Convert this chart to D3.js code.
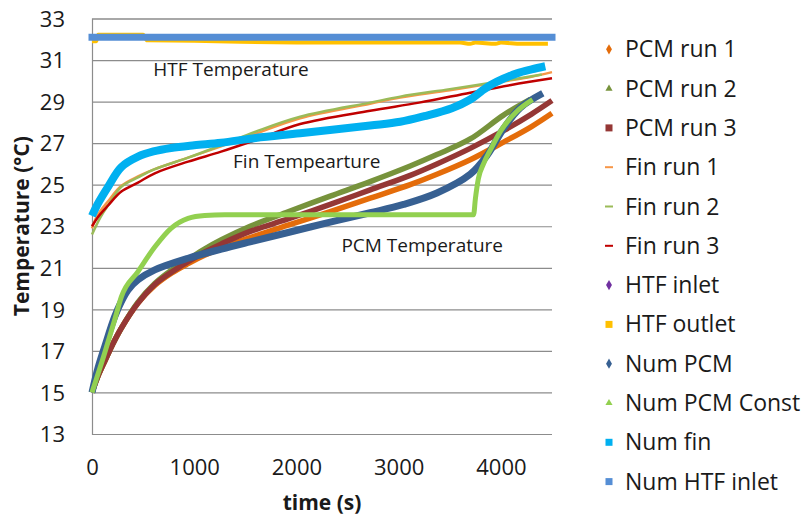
<!DOCTYPE html>
<html>
<head>
<meta charset="utf-8">
<script src="https://cdn.jsdelivr.net/npm/d3@7/dist/d3.min.js"></script>
<style>
  html, body { margin: 0; padding: 0; background: #fff; }
  svg { display: block; font-family: "Open Sans", sans-serif; }
</style>
</head>
<body>
<svg id="chart" width="807" height="519"></svg>
<script>
// Temperature histories: [time (s), temperature (°C)]
const pcmRun1 = [[0,15.0],[60,15.8],[124,16.5],[200,17.3],[287,18.1],[450,19.3],[614,20.15],[780,20.75],[940,21.2],[1100,21.6],[1266,21.95],[1547,22.45],[1918,23.05],[2330,23.7],[2721,24.35],[3113,25.0],[3374,25.5],[3700,26.2],[4026,27.05],[4300,27.8],[4500,28.44]];
const pcmRun2 = [[0,15.0],[60,15.8],[124,16.5],[200,17.3],[287,18.1],[450,19.35],[614,20.25],[780,20.9],[940,21.4],[1100,21.9],[1266,22.35],[1547,23.0],[1918,23.7],[2330,24.45],[2721,25.15],[3113,25.9],[3374,26.45],[3700,27.2],[4026,28.35],[4287,29.1]];
const pcmRun3 = [[0,15.0],[60,15.8],[124,16.5],[200,17.3],[287,18.1],[450,19.3],[614,20.2],[780,20.8],[940,21.3],[1100,21.75],[1266,22.15],[1547,22.75],[1918,23.35],[2330,24.05],[2721,24.75],[3113,25.45],[3374,26.0],[3700,26.75],[4026,27.6],[4300,28.4],[4500,29.05]];
const finRun1 = [[0,22.9],[50,23.5],[157,24.2],[287,24.95],[450,25.4],[614,25.75],[940,26.3],[1263,26.85],[1600,27.45],[2036,28.2],[2721,28.9],[3015,29.2],[3500,29.55],[4000,29.95],[4300,30.2],[4500,30.42]];
const finRun2 = [[0,22.6],[85,23.45],[157,24.0],[287,24.9],[450,25.35],[614,25.75],[940,26.3],[1263,26.9],[1600,27.55],[2036,28.27],[2721,28.95],[3015,29.24],[3500,29.6],[4000,29.98],[4400,30.3]];
const finRun3 = [[0,23.0],[59,23.45],[157,24.0],[287,24.67],[450,25.1],[614,25.55],[940,26.11],[1263,26.59],[1600,27.15],[2036,27.92],[2721,28.56],[3200,28.95],[3700,29.43],[4100,29.8],[4500,30.12]];
const htfInlet = [[0,32.1],[4460,32.1]];
const htfOutlet = [[0,31.9],[40,31.9],[60,32.22],[500,32.22],[540,31.95],[1000,31.93],[1450,31.88],[2000,31.85],[3600,31.84],[3700,31.78],[3750,31.84],[3950,31.78],[4000,31.84],[4200,31.78],[4460,31.78]];
const numPcm = [[0,15.0],[60,16.2],[124,17.2],[222,18.65],[287,19.37],[352,19.93],[450,20.42],[614,20.9],[940,21.46],[1266,21.9],[1547,22.25],[1918,22.7],[2330,23.2],[2721,23.65],[3048,24.05],[3374,24.6],[3700,25.5],[3863,26.4],[4026,27.7],[4189,28.7],[4410,29.4]];
const numPcmConst = [[0,15.0],[124,16.9],[222,18.5],[287,19.6],[450,20.82],[614,22.0],[773,22.9],[940,23.38],[1103,23.52],[1300,23.55],[3733,23.55],[3750,24.3],[3780,25.3],[3830,26.0],[3900,26.7],[4000,27.6],[4160,28.55],[4310,29.1]];
const numFin = [[0,23.5],[59,24.1],[157,24.9],[287,25.85],[450,26.35],[600,26.6],[773,26.77],[1000,26.9],[1263,27.02],[1600,27.25],[2036,27.48],[2721,27.85],[3015,28.03],[3250,28.3],[3520,28.68],[3700,29.1],[3810,29.5],[3900,29.8],[4023,30.1],[4157,30.36],[4300,30.55],[4434,30.7]];
const numHtfInlet = [[0,32.1],[4500,32.1]];

const seriesNames = ["PCM run 1","PCM run 2","PCM run 3","Fin run 1","Fin run 2","Fin run 3","HTF inlet","HTF outlet","Num PCM","Num PCM Const","Num fin","Num HTF inlet"];
const seriesData = [pcmRun1,pcmRun2,pcmRun3,finRun1,finRun2,finRun3,htfInlet,htfOutlet,numPcm,numPcmConst,numFin,numHtfInlet];
const seriesColors = ["#E46C0A","#77933C","#953735","#F79646","#9BBB59","#C00000","#7030A0","#FFC000","#376092","#92D050","#00B0F0","#558ED5"];
const seriesWidths = [5.5,5.5,5.5,2.5,2.5,2.5,3,4,7,5,8,7];
const seriesSymbols = ["diamond","triangle","square","dash","dash","dash","diamond","square","diamond","triangle","square","square"];

const yTicks = [13,15,17,19,21,23,25,27,29,31,33];
const xTicks = [0,1000,2000,3000,4000];
const annotations = [
  {text:"HTF Temperature", t:600, v:30.55},
  {text:"Fin Tempearture", t:1380, v:26.1},
  {text:"PCM Temperature", t:2440, v:22.1}
];

const svg = d3.select("#chart");
const x = d3.scaleLinear().domain([0,4500]).range([92,552]);
const y = d3.scaleLinear().domain([13,33]).range([434,18.5]);

// horizontal gridlines and value axis
const yAxis = d3.axisLeft(y).tickValues(yTicks).tickSize(-(x.range()[1]-x.range()[0])).tickPadding(27).tickFormat(d3.format("d"));
const gy = svg.append("g").attr("transform",`translate(${x(0)},0)`).call(yAxis);
gy.select(".domain").attr("stroke","#8c8c8c").attr("stroke-width",1.2);
gy.selectAll(".tick line").attr("stroke","#8c8c8c").attr("stroke-width",1.2);
gy.selectAll(".tick text").attr("font-size",22).attr("fill","#1a1a1a").attr("font-family","Open Sans").attr("dy","0.35em");

const xAxis = d3.axisBottom(x).tickValues(xTicks).tickSize(0).tickPadding(25).tickFormat(d3.format("d"));
const gx = svg.append("g").attr("transform",`translate(0,${y(13)})`).call(xAxis);
gx.select(".domain").remove();
gx.selectAll(".tick text").attr("font-size",22).attr("fill","#1a1a1a").attr("font-family","Open Sans");

// series lines, first series underneath
const smooth = d3.line().x(d=>x(d[0])).y(d=>y(d[1])).curve(d3.curveCatmullRom.alpha(0.5));
const mono = d3.line().x(d=>x(d[0])).y(d=>y(d[1])).curve(d3.curveMonotoneX);
svg.append("g").selectAll("path").data(seriesData).join("path")
  .attr("d", (d,i) => (i===9 || i===7) ? mono(d) : smooth(d))
  .attr("fill","none")
  .attr("stroke",(d,i)=>seriesColors[i])
  .attr("stroke-width",(d,i)=>seriesWidths[i])
  .attr("stroke-linejoin","round")
  .attr("stroke-linecap",(d,i)=> i===11 ? "square" : "butt");

// in-plot labels
svg.append("g").selectAll("text").data(annotations).join("text")
  .attr("x",d=>x(d.t)).attr("y",d=>y(d.v))
  .attr("font-size",19).attr("fill","#1a1a1a").attr("dy","0.35em")
  .text(d=>d.text);

// axis titles
svg.append("text").attr("x",(x.range()[0]+x.range()[1])/2).attr("y",503)
  .attr("text-anchor","middle").attr("dy","0.35em")
  .attr("font-size",21).attr("font-weight","bold").attr("fill","#1a1a1a")
  .text("time (s)");
svg.append("text").attr("transform",`translate(22,${(y(13)+y(33))/2}) rotate(-90)`)
  .attr("text-anchor","middle").attr("dy","0.35em")
  .attr("font-size",21).attr("font-weight","bold").attr("fill","#1a1a1a")
  .text("Temperature (°C)");

// legend
const legend = svg.append("g");
const rowY = i => 49.3 + i*39.3;
seriesNames.forEach((name,i)=>{
  const g = legend.append("g").attr("transform",`translate(609,${rowY(i)})`);
  const c = seriesColors[i], s = seriesSymbols[i];
  if (s==="diamond") g.append("path").attr("d",d3.symbol(d3.symbolDiamond,30)()).attr("fill",c);
  else if (s==="triangle") g.append("path").attr("d",d3.symbol(d3.symbolTriangle,22)()).attr("fill",c);
  else if (s==="square") g.append("rect").attr("x",-3.5).attr("y",-3.5).attr("width",7).attr("height",7).attr("fill",c);
  else g.append("rect").attr("x",-4).attr("y",-1).attr("width",8).attr("height",2).attr("fill",c);
  g.append("text").attr("x",16).attr("dy","0.35em").attr("font-size",23).attr("fill","#1a1a1a").text(name);
});
</script>
</body>
</html>
